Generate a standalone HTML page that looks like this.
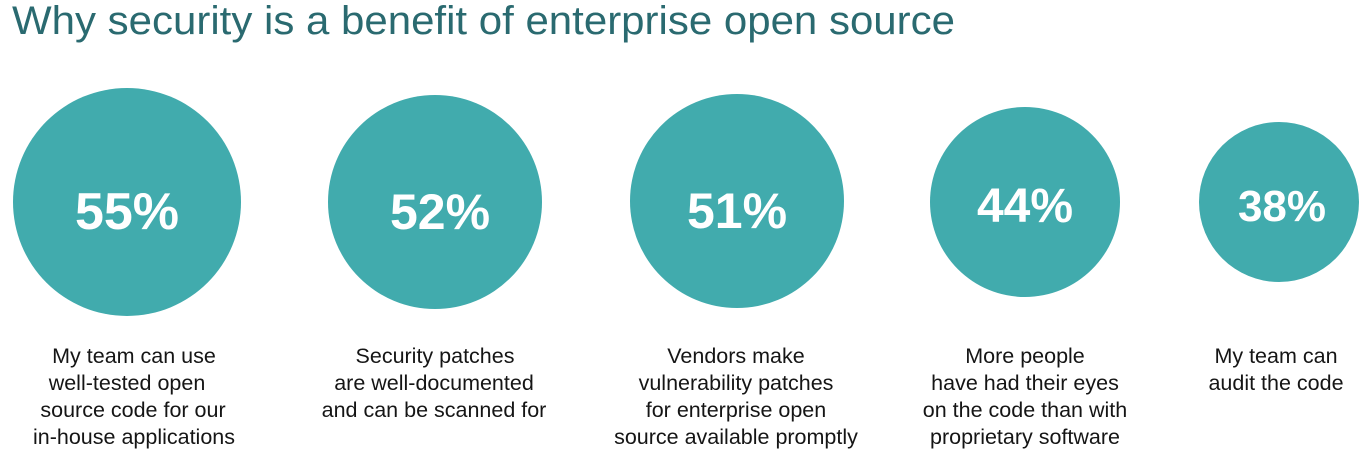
<!DOCTYPE html>
<html><head><meta charset="utf-8"><style>
html,body{margin:0;padding:0;background:#fff;}
svg{display:block}
</style></head><body>
<svg width="1372" height="465" xmlns="http://www.w3.org/2000/svg" font-family="Liberation Sans, sans-serif">
<text x="12" y="34" font-size="40" fill="#2a6a70" textLength="943" lengthAdjust="spacingAndGlyphs">Why security is a benefit of enterprise open source</text>
<g fill="#41abad">
<circle cx="127" cy="202" r="114"/>
<circle cx="435" cy="202" r="107"/>
<circle cx="737" cy="201" r="107"/>
<circle cx="1025" cy="202" r="95"/>
<circle cx="1279" cy="202" r="80"/>
</g>
<g fill="#fff" font-weight="bold" text-anchor="middle">
<text x="127" y="229" font-size="52">55%</text>
<text x="440" y="229" font-size="50">52%</text>
<text x="737" y="228" font-size="50">51%</text>
<text x="1025" y="222" font-size="48">44%</text>
<text x="1282" y="221" font-size="44">38%</text>
</g>
<g fill="#151515" font-size="21.5" text-anchor="middle">
<text x="134" y="363">My team can use</text>
<text x="127" y="390">well-tested open</text>
<text x="133" y="417">source code for our</text>
<text x="134" y="444">in-house applications</text>
<text x="435" y="363">Security patches</text>
<text x="434" y="390">are well-documented</text>
<text x="434" y="417">and can be scanned for</text>
<text x="736" y="363">Vendors make</text>
<text x="736" y="390">vulnerability patches</text>
<text x="736" y="417">for enterprise open</text>
<text x="736" y="444">source available promptly</text>
<text x="1025" y="363">More people</text>
<text x="1025" y="390">have had their eyes</text>
<text x="1025" y="417">on the code than with</text>
<text x="1025" y="444">proprietary software</text>
<text x="1276" y="363">My team can</text>
<text x="1276" y="390">audit the code</text>
</g>
</svg>
</body></html>
